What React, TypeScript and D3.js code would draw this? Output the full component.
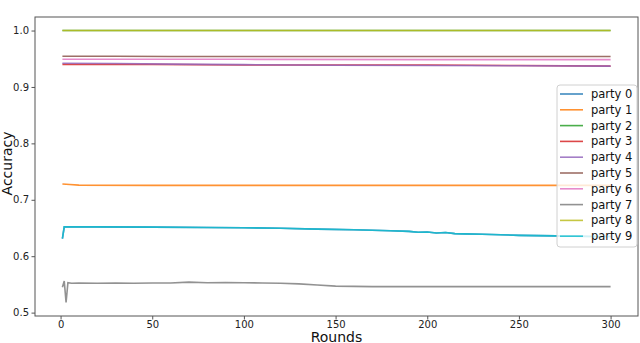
import * as d3 from "d3";
import { useEffect, useRef } from "react";

const parties = ["party 0", "party 1", "party 2", "party 3", "party 4", "party 5", "party 6", "party 7", "party 8", "party 9"];
const colors = ["#1f77b4", "#ff7f0e", "#2ca02c", "#d62728", "#9467bd", "#8c564b", "#e377c2", "#7f7f7f", "#bcbd22", "#17becf"];

const xTicks = [0, 50, 100, 150, 200, 250, 300];
const yTicks = [0.5, 0.6, 0.7, 0.8, 0.9, 1.0];

// [round, accuracy]
const party9: [number, number][] = [
  [1, 0.631], [2, 0.652], [20, 0.652], [50, 0.6515], [80, 0.651], [100, 0.6505], [120, 0.6495],
  [140, 0.648], [160, 0.647], [180, 0.645], [190, 0.644], [195, 0.6425], [200, 0.643], [205, 0.641],
  [210, 0.642], [215, 0.640], [220, 0.6395], [230, 0.639], [240, 0.638], [250, 0.637], [260, 0.6365],
  [270, 0.636], [280, 0.6355], [290, 0.635], [300, 0.635],
];
const party0: [number, number][] = party9.map(([r, v]) => [r, v]);
const party1: [number, number][] = [[1, 0.728], [5, 0.727], [10, 0.726], [50, 0.7255], [100, 0.7255], [200, 0.7255], [300, 0.7255]];
const party2: [number, number][] = [[1, 1.0], [100, 1.0], [200, 1.0], [300, 1.0]];
const party3: [number, number][] = [[1, 0.940], [50, 0.940], [100, 0.939], [150, 0.939], [200, 0.939], [250, 0.938], [300, 0.937]];
const party4: [number, number][] = [[1, 0.942], [30, 0.9415], [60, 0.9405], [100, 0.9395], [150, 0.9385], [200, 0.938], [250, 0.9375], [300, 0.937]];
const party5: [number, number][] = [[1, 0.9545], [30, 0.9545], [60, 0.954], [150, 0.954], [300, 0.954]];
const party6: [number, number][] = [[1, 0.949], [100, 0.949], [200, 0.9485], [300, 0.9485]];
const party7: [number, number][] = [
  [1, 0.545], [2, 0.556], [3, 0.518], [4, 0.553], [6, 0.552], [10, 0.5525], [20, 0.552], [30, 0.5525],
  [40, 0.552], [50, 0.5525], [60, 0.5525], [70, 0.554], [80, 0.553], [90, 0.5535], [100, 0.553],
  [110, 0.5525], [120, 0.552], [130, 0.551], [140, 0.549], [150, 0.547], [170, 0.546], [200, 0.546],
  [250, 0.546], [300, 0.546],
];
const party8: [number, number][] = [[1, 1.0], [100, 1.0], [200, 1.0], [300, 1.0]];

const series = [party0, party1, party2, party3, party4, party5, party6, party7, party8, party9];

export default function App() {
  const ref = useRef<SVGSVGElement>(null);

  useEffect(() => {
    const width = 640;
    const height = 343;
    const m = { left: 35, right: 2, top: 17, bottom: 27 };
    const font = "DejaVu Sans, sans-serif";

    const svg = d3.select(ref.current);
    svg.selectAll("*").remove();
    svg.attr("width", width).attr("height", height);

    const x = d3.scaleLinear().domain([-13.95, 314.95]).range([m.left, width - m.right]);
    const y = d3.scaleLinear().domain([0.494, 1.024]).range([height - m.bottom, m.top]);

    const line = d3.line<[number, number]>()
      .x(d => x(d[0]))
      .y(d => y(d[1]));

    svg.append("g")
      .selectAll("path")
      .data(series)
      .enter()
      .append("path")
      .attr("d", d => line(d))
      .attr("fill", "none")
      .attr("stroke", (_, i) => colors[i])
      .attr("stroke-opacity", 0.85)
      .attr("stroke-width", 1.6);

    // frame
    svg.append("rect")
      .attr("x", m.left)
      .attr("y", m.top)
      .attr("width", width - m.left - m.right)
      .attr("height", height - m.top - m.bottom)
      .attr("fill", "none")
      .attr("stroke", "#555")
      .attr("stroke-width", 1);

    const xAxis = svg.append("g")
      .attr("transform", `translate(0,${height - m.bottom})`)
      .call(d3.axisBottom(x).tickValues(xTicks).tickSize(3.5).tickPadding(1.5).tickFormat(d3.format("d")));
    const yAxis = svg.append("g")
      .attr("transform", `translate(${m.left},0)`)
      .call(d3.axisLeft(y).tickValues(yTicks).tickSize(3.5).tickPadding(2.5).tickFormat(d3.format(".1f")));

    [xAxis, yAxis].forEach(a => {
      a.select(".domain").remove();
      a.selectAll("line").attr("stroke", "#555");
      a.selectAll("text").attr("font-family", font).attr("font-size", 10).attr("fill", "#222");
    });

    svg.append("text")
      .attr("x", (m.left + width - m.right) / 2)
      .attr("y", 341.5)
      .attr("text-anchor", "middle")
      .attr("font-family", font)
      .attr("font-size", 14)
      .attr("fill", "#111")
      .text("Rounds");

    svg.append("text")
      .attr("transform", `translate(12,${(m.top + height - m.bottom) / 2 - 3}) rotate(-90)`)
      .attr("text-anchor", "middle")
      .attr("font-family", font)
      .attr("font-size", 14)
      .attr("fill", "#111")
      .text("Accuracy");

    // legend
    const lg = svg.append("g").attr("transform", "translate(557,85)");
    lg.append("rect")
      .attr("width", 80)
      .attr("height", 162)
      .attr("rx", 3)
      .attr("fill", "white")
      .attr("fill-opacity", 0.8)
      .attr("stroke", "#d0d0d0");
    const items = lg.selectAll("g.item")
      .data(parties)
      .enter()
      .append("g")
      .attr("class", "item")
      .attr("transform", (_, i) => `translate(0,${9 + i * 15.8})`);
    items.append("line")
      .attr("x1", 3)
      .attr("x2", 26)
      .attr("stroke", (_, i) => colors[i])
      .attr("stroke-opacity", 0.85)
      .attr("stroke-width", 1.6);
    items.append("text")
      .attr("x", 34)
      .attr("dy", "0.35em")
      .attr("font-family", font)
      .attr("font-size", 11.5)
      .attr("fill", "#111")
      .text(d => d);
  }, []);

  return <svg ref={ref} style={{ position: "absolute", left: 0, top: 0 }} />;
}
